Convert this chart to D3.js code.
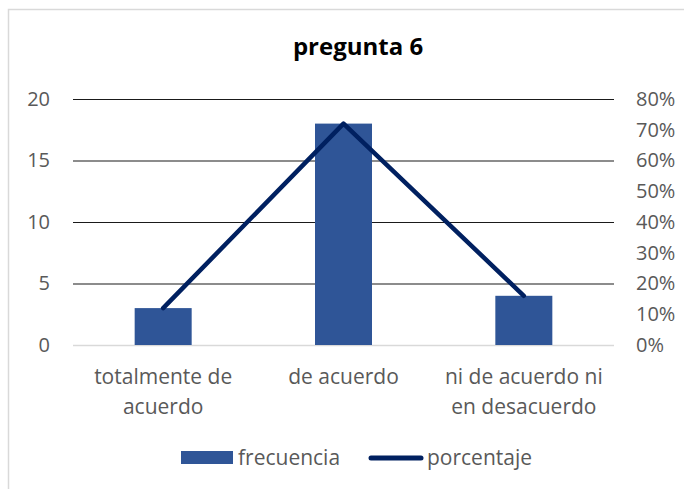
<!DOCTYPE html>
<html>
<head>
<meta charset="utf-8">
<script src="https://cdn.jsdelivr.net/npm/d3@7"></script>
<style>
  body { margin: 0; background: #fff; }
  text { font-family: "Open Sans", sans-serif; }
</style>
</head>
<body>
<div id="chart-area"></div>
<script>
const categories = [["totalmente de", "acuerdo"], ["de acuerdo"], ["ni de acuerdo ni", "en desacuerdo"]]
const frecuencia = [3, 18, 4]
const porcentaje = [0.12, 0.72, 0.16]
const leftTicks = [0, 5, 10, 15, 20]
const rightTicks = [0, 0.1, 0.2, 0.3, 0.4, 0.5, 0.6, 0.7, 0.8]

const W = 684, H = 489
const margin = { left: 73, right: 70, top: 99, bottom: 144 }
const font = "\"Open Sans\", sans-serif"

const svg = d3.select("#chart-area").append("svg").attr("width", W).attr("height", H)

// chart frame (only top and left edges show)
svg.append("rect")
  .attr("x", 8.5).attr("y", 9.5)
  .attr("width", W + 10).attr("height", H + 10)
  .attr("fill", "none").attr("stroke", "#d9d9d9").attr("stroke-width", 1.5)

const x = d3.scaleBand().domain(d3.range(categories.length)).range([margin.left, W - margin.right])
const y = d3.scaleLinear().domain([0, 20]).range([H - margin.bottom, margin.top])
const y2 = d3.scaleLinear().domain([0, 0.8]).range([H - margin.bottom, margin.top])

// gridlines
svg.selectAll(".grid").data(leftTicks)
  .enter().append("line")
  .attr("x1", margin.left).attr("x2", W - margin.right)
  .attr("y1", d => y(d) + 0.5).attr("y2", d => y(d) + 0.5)
  .attr("stroke", d => d === 0 ? "#d9d9d9" : "#1a1a1a")
  .attr("stroke-width", d => d === 0 ? 1.5 : 1.2)

// left axis
const leftAxis = svg.append("g")
  .attr("transform", `translate(${margin.left - 23},0)`)
  .call(d3.axisLeft(y).tickValues(leftTicks).tickSize(0).tickPadding(0))
leftAxis.select(".domain").remove()
leftAxis.selectAll("text").attr("font-size", 20).attr("fill", "#595959").attr("font-family", font)

// right axis
const rightAxis = svg.append("g")
  .attr("transform", `translate(${W - margin.right + 22},0)`)
  .call(d3.axisRight(y2).tickValues(rightTicks).tickFormat(d3.format(".0%")).tickSize(0).tickPadding(0))
rightAxis.select(".domain").remove()
rightAxis.selectAll("text").attr("font-size", 20).attr("fill", "#595959").attr("font-family", font)

// bars
const barW = 57
svg.selectAll(".bar").data(frecuencia)
  .enter().append("rect")
  .attr("x", (d, i) => x(i) + x.bandwidth() / 2 - barW / 2)
  .attr("y", d => y(d))
  .attr("width", barW)
  .attr("height", d => y(0) - y(d))
  .attr("fill", "#2f5597")

// line
const line = d3.line()
  .x((d, i) => x(i) + x.bandwidth() / 2)
  .y(d => y2(d))
svg.append("path")
  .datum(porcentaje)
  .attr("d", line)
  .attr("fill", "none")
  .attr("stroke", "#002060")
  .attr("stroke-width", 4.5)
  .attr("stroke-linecap", "round")
  .attr("stroke-linejoin", "round")

// category labels
const cat = svg.selectAll(".cat").data(categories)
  .enter().append("text")
  .attr("text-anchor", "middle")
  .attr("font-size", 21)
  .attr("fill", "#595959")
cat.selectAll("tspan").data((d, i) => d.map(t => ({ t, i })))
  .enter().append("tspan")
  .attr("x", d => x(d.i) + x.bandwidth() / 2)
  .attr("y", (d, j) => 384 + j * 30)
  .text(d => d.t)

// title
svg.append("text")
  .attr("x", 358).attr("y", 55)
  .attr("text-anchor", "middle")
  .attr("font-size", 24).attr("font-weight", "bold")
  .attr("fill", "#000")
  .text("pregunta 6")

// legend
const lg = svg.append("g")
lg.append("rect").attr("x", 181).attr("y", 451).attr("width", 52).attr("height", 13).attr("fill", "#2f5597")
lg.append("text").attr("x", 238).attr("y", 465).attr("font-size", 21).attr("fill", "#595959").text("frecuencia")
lg.append("line").attr("x1", 371).attr("x2", 421).attr("y1", 458).attr("y2", 458)
  .attr("stroke", "#002060").attr("stroke-width", 5).attr("stroke-linecap", "round")
lg.append("text").attr("x", 427).attr("y", 465).attr("font-size", 21).attr("fill", "#595959").text("porcentaje")
</script>
</body>
</html>
